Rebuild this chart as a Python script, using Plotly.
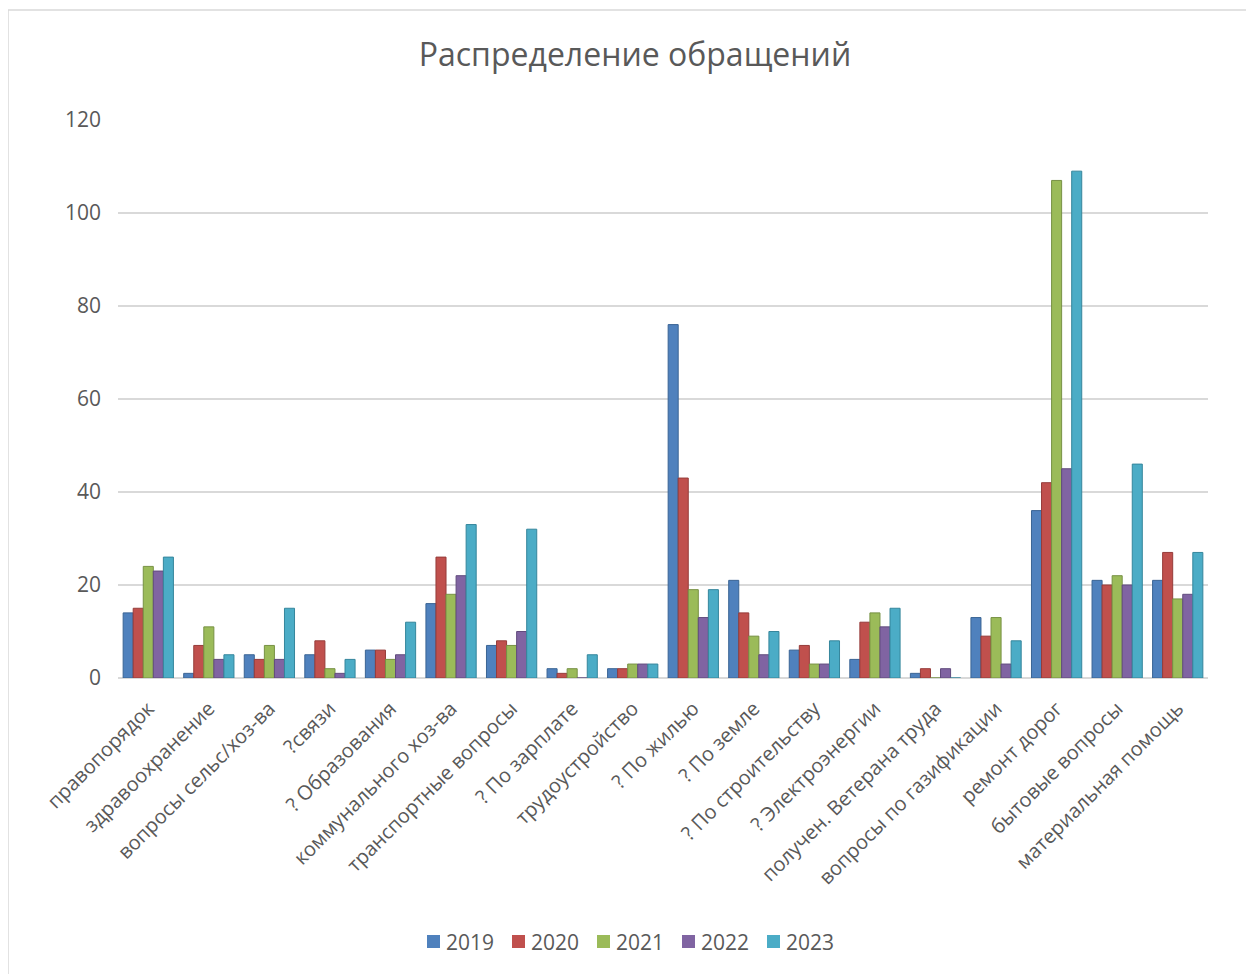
import plotly.graph_objects as go

categories = ["правопорядок", "здравоохранение", "вопросы сельс/хоз-ва", "?связи",
              "? Образования", "коммунального хоз-ва", "транспортные вопросы",
              "? По зарплате", "трудоустройство", "? По жилью", "? По земле",
              "? По строительству", "? Электроэнергии", "получен. Ветерана труда",
              "вопросы по газификации", "ремонт дорог", "бытовые вопросы",
              "материальная помощь"]

years = ["2019", "2020", "2021", "2022", "2023"]

v2019 = [14, 1, 5, 5, 6, 16, 7, 2, 2, 76, 21, 6, 4, 1, 13, 36, 21, 21]
v2020 = [15, 7, 4, 8, 6, 26, 8, 1, 2, 43, 14, 7, 12, 2, 9, 42, 20, 27]
v2021 = [24, 11, 7, 2, 4, 18, 7, 2, 3, 19, 9, 3, 14, 0, 13, 107, 22, 17]
v2022 = [23, 4, 4, 1, 5, 22, 10, 0, 3, 13, 5, 3, 11, 2, 3, 45, 20, 18]
v2023 = [26, 5, 15, 4, 12, 33, 32, 5, 3, 19, 10, 8, 15, 0, 8, 109, 46, 27]

series = [v2019, v2020, v2021, v2022, v2023]
colors = ["#4F81BD", "#C0504D", "#9BBB59", "#8064A2", "#4BACC6"]
edge = ["#3A6494", "#963C3A", "#779144", "#614B7D", "#35869C"]

FONT = "Open Sans"
GRAY = "#595959"

fig = go.Figure()
for name, vals, c, e in zip(years, series, colors, edge):
    fig.add_trace(go.Bar(name=name, x=categories, y=vals, showlegend=False,
                         marker=dict(color=c, line=dict(color=e, width=1))))

W, H = 1254, 974
OFF = 8  # page body margin
L, R = 118 - OFF, W - (1208 - OFF)
T, B = 120 - OFF, H - (678 - OFF)
pw, ph = W - L - R, H - T - B

def px(x):
    return (x - OFF - L) / pw

def py(y):
    return (H - B - (y - OFF)) / ph

fig.update_layout(
    width=W, height=H,
    margin=dict(l=L, r=R, t=T, b=B),
    paper_bgcolor="white", plot_bgcolor="white",
    barmode="group", bargap=0.17, bargroupgap=0.0,
    font=dict(family=FONT, color=GRAY),
    title=dict(text="Распределение обращений", x=0.5, xanchor="center",
               y=1 - (55 - OFF) / H, yanchor="middle",
               font=dict(size=32, color=GRAY, family=FONT)),
    showlegend=False,
)
fig.update_yaxes(range=[0, 120], dtick=20, showgrid=True, gridcolor="#D9D9D9",
                 gridwidth=1.5, zeroline=True, zerolinecolor="#D9D9D9",
                 zerolinewidth=1.5, showline=False,
                 tickfont=dict(size=21, color=GRAY, family=FONT), ticks="",
                 ticklabelstandoff=16)
fig.update_xaxes(tickangle=-45, tickfont=dict(size=20, color=GRAY, family=FONT),
                 showline=False, ticks="", showgrid=False, ticklabelstandoff=14)

# chart frame
fig.add_shape(type="rect", xref="paper", yref="paper",
              x0=px(8), x1=px(1250), y0=py(1000), y1=py(10),
              line=dict(color="#D9D9D9", width=1.5), fillcolor="rgba(0,0,0,0)",
              layer="below")

# legend (custom, to match the compact spacing)
LEG_X0, LEG_STEP = 427, 85
for i, (name, c) in enumerate(zip(years, colors)):
    x0 = LEG_X0 + LEG_STEP * i
    fig.add_shape(type="rect", xref="paper", yref="paper",
                  x0=px(x0), x1=px(x0 + 13), y0=py(948), y1=py(935),
                  line=dict(width=0), fillcolor=c)
    fig.add_annotation(xref="paper", yref="paper", x=px(x0 + 17), y=py(942),
                       xanchor="left", yanchor="middle", text=name,
                       showarrow=False, font=dict(size=21, color=GRAY, family=FONT))

fig.write_html("out.html")
